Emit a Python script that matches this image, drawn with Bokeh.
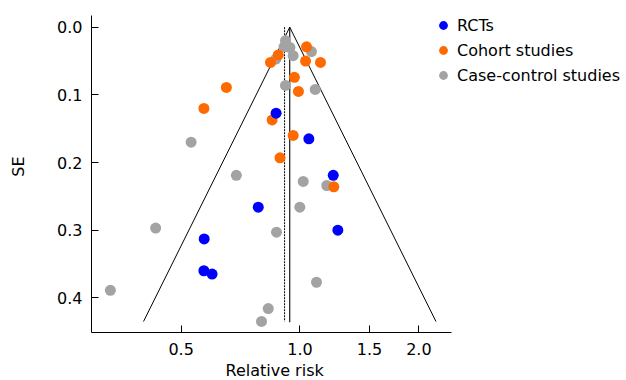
import math
from bokeh.plotting import figure
from bokeh.models import Range1d, FixedTicker, CustomJSTickFormatter, Legend, LegendItem, Title
from bokeh.embed import file_html
from bokeh.resources import INLINE

# ---- data ----
rct_rr = [0.870, 1.053, 1.214, 0.784, 1.247, 0.572, 0.571, 0.599]
rct_se = [0.127, 0.165, 0.219, 0.266, 0.300, 0.313, 0.360, 0.365]

cohort_rr = [1.039, 0.881, 0.842, 1.033, 1.127, 0.968, 0.991, 0.651, 0.571, 0.850, 0.961, 0.890, 1.218]
cohort_se = [0.029, 0.041, 0.052, 0.050, 0.052, 0.074, 0.095, 0.089, 0.120, 0.137, 0.160, 0.193, 0.236]

case_rr = [0.919, 0.911, 0.943, 1.069, 0.961, 0.869, 0.919, 1.093, 0.530, 0.690, 1.019, 1.169,
           0.999, 0.872, 0.431, 0.331, 1.101, 0.831, 0.799]
case_se = [0.020, 0.029, 0.030, 0.036, 0.042, 0.047, 0.086, 0.092, 0.170, 0.219, 0.228, 0.234,
           0.266, 0.303, 0.297, 0.389, 0.377, 0.416, 0.435]

pooled_rr = 0.942      # solid line / funnel apex
fixed_rr = 0.914       # dotted line
se_max = 0.435

x_ticks = [0.5, 1.0, 1.5, 2.0]
y_ticks = [0.0, 0.1, 0.2, 0.3, 0.4]
x_axis_bounds = (0.2965, 2.419)
y_axis_bounds = (-0.0173, 0.4513)

FONT = "DejaVu Sans"

W, H = 626, 380
p = figure(width=W, height=H, output_backend="svg", toolbar_location=None,
           x_axis_type="log",
           x_range=Range1d(0.2965, 6.712), y_range=Range1d(0.4513, -0.0395),
           min_border_left=91, min_border_top=0, min_border_right=0, min_border_bottom=48)
p.outline_line_color = None
p.xgrid.visible = False
p.ygrid.visible = False
p.background_fill_color = "white"
p.border_fill_color = "white"

# funnel
ln_p = math.log(pooled_rr)
p.line([math.exp(ln_p - 1.96 * se_max), pooled_rr, math.exp(ln_p + 1.96 * se_max)],
       [se_max, 0.0, se_max], line_color="black", line_width=1)
p.line([pooled_rr, pooled_rr], [0.0, se_max + 0.001], line_color="black", line_width=1.1)
p.line([fixed_rr, fixed_rr], [0.0, se_max], line_color="black", line_width=1, line_dash="2 1")

r_case = p.scatter(case_rr, case_se, size=11, fill_color="#a3a3a3", line_color=None)
r_coh = p.scatter(cohort_rr, cohort_se, size=11, fill_color="#ff6a00", line_color=None)
r_rct = p.scatter(rct_rr, rct_se, size=11, fill_color="#0000ff", line_color=None)

legend = Legend(items=[LegendItem(label="RCTs", renderers=[r_rct]),
                       LegendItem(label="Cohort studies", renderers=[r_coh]),
                       LegendItem(label="Case-control studies", renderers=[r_case])],
                location=(341, 246), padding=0, spacing=3, glyph_width=22, glyph_height=22,
                label_standoff=3, label_text_font=FONT, label_text_font_size="16px",
                label_text_color="black", border_line_color=None, background_fill_alpha=0,
                margin=0)
p.add_layout(legend, "center")

for ax in (p.xaxis[0], p.yaxis[0]):
    ax.major_tick_in = 7
    ax.major_tick_out = 0
    ax.minor_tick_line_color = None
    ax.axis_line_color = "black"
    ax.major_tick_line_color = "black"
    ax.major_label_text_font = FONT
    ax.major_label_text_font_size = "16px"
    ax.major_label_text_color = "black"
    ax.axis_label_text_font = FONT
    ax.axis_label_text_font_size = "16px"
    ax.axis_label_text_font_style = "normal"
    ax.axis_label_text_color = "black"
    ax.formatter = CustomJSTickFormatter(code="return tick.toFixed(1);")

p.xaxis[0].ticker = FixedTicker(ticks=x_ticks)
p.yaxis[0].ticker = FixedTicker(ticks=y_ticks)
p.xaxis[0].bounds = x_axis_bounds
p.yaxis[0].bounds = y_axis_bounds
p.yaxis[0].axis_label = "SE"
p.xaxis[0].major_label_standoff = 10
p.yaxis[0].major_label_standoff = 9
p.yaxis[0].axis_label_standoff = 26

xtitle = Title(text="Relative risk", align="left", offset=134, standoff=2,
               text_font=FONT, text_font_size="16px", text_font_style="normal",
               text_color="black")
p.add_layout(xtitle, "below")

open("out.html", "w").write(file_html(p, INLINE))
